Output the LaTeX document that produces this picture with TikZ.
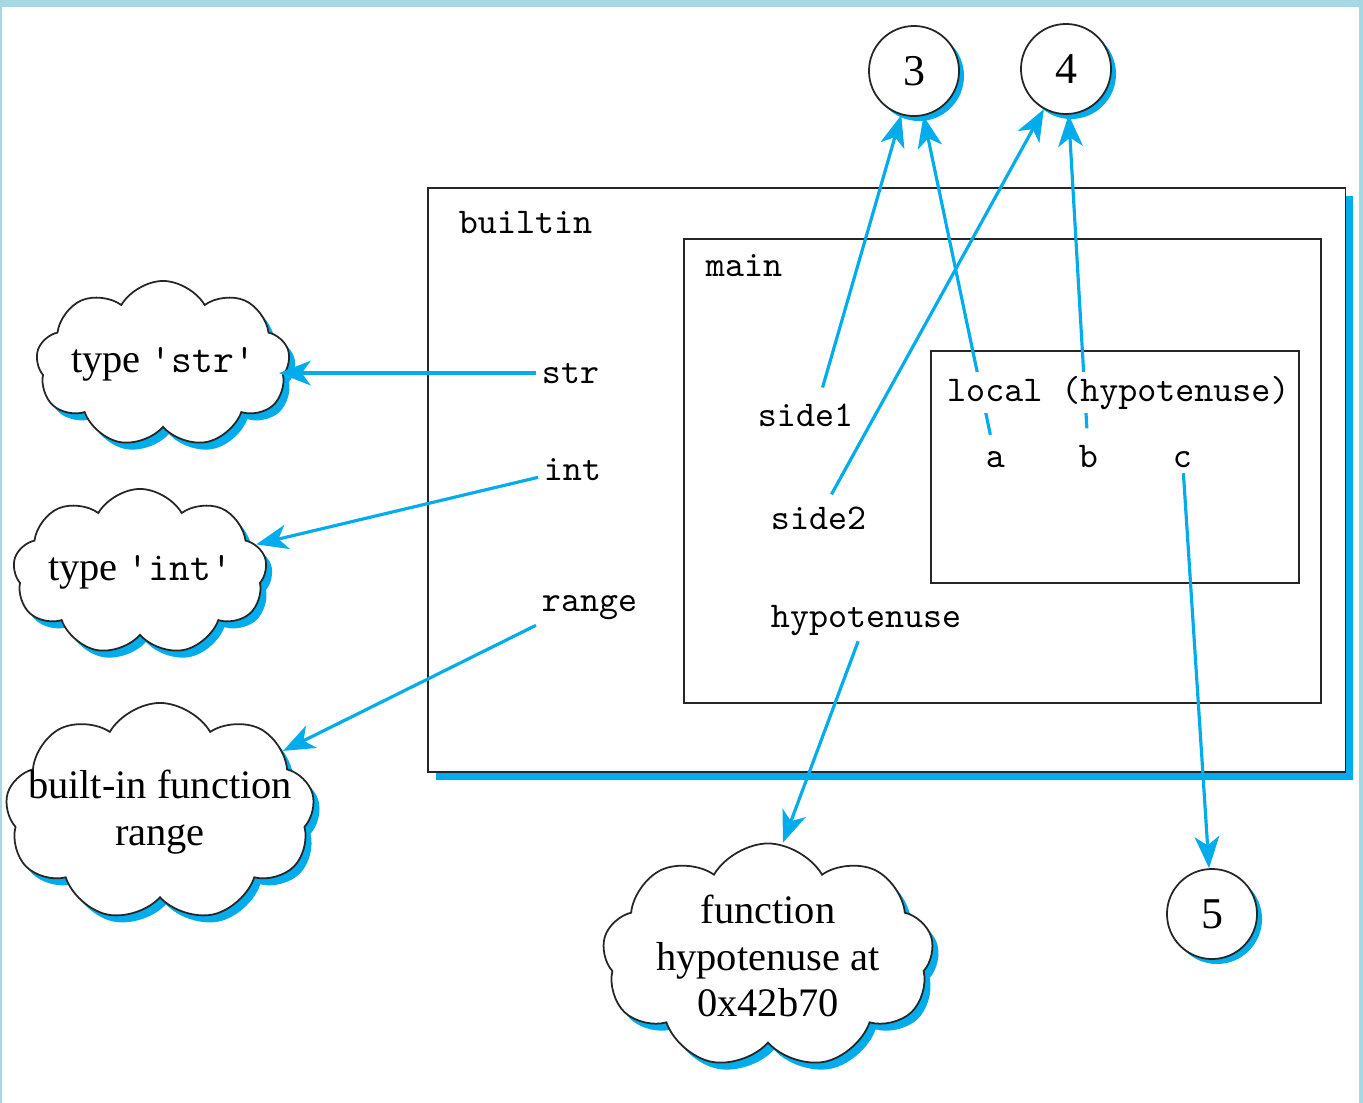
\documentclass[tikz,border=0pt]{standalone}
\usepackage{fontspec}
\setmainfont{Liberation Serif}
\usetikzlibrary{shapes,arrows.meta,shadows,positioning}
\usepackage{xcolor}
\definecolor{ptrblue}{RGB}{0,172,236}
\definecolor{edgeblue}{RGB}{166,216,228}
\pgfdeclarelayer{front}
\pgfsetlayers{main,front}
\newcommand{\code}[1]{{\fontsize{11.5}{13}\selectfont\ttfamily #1}}

\begin{document}
\begin{tikzpicture}[x=0.01cm,y=-0.01cm]
    \tikzstyle{frame} = [draw=black!85, line width=0.5pt, anchor=north west, inner sep=0pt]
    \tikzstyle{varname} = [font=\fontsize{10.3}{12}\selectfont\ttfamily, anchor=base west, inner sep=1.5pt]
    \tikzstyle{thought} = [cloud, draw=black!85, line width=0.5pt, fill=white,
               cloud puffs=9, cloud puff arc=120, cloud ignores aspect, inner sep=0pt,
               align=center, font=\fontsize{11.5}{13.3}\selectfont,
               drop shadow={shadow xshift=0.06cm, shadow yshift=-0.07cm, fill=ptrblue, opacity=1}]
    \tikzstyle{value} = [circle, draw=black!85, line width=0.5pt, fill=white,
               minimum size=0.9cm, inner sep=0pt, font=\fontsize{12.5}{14}\selectfont,
               drop shadow={shadow xshift=0.05cm, shadow yshift=-0.05cm, fill=ptrblue, opacity=1}]
    \tikzstyle{ref} = [draw=ptrblue, line width=0.9pt, -{Stealth[length=9pt,width=7pt,inset=2.5pt]}]

    \useasboundingbox (0,0) rectangle (1363,1103);
    \fill[edgeblue] (0,0) rectangle (1363,7);
    \fill[edgeblue] (0,0) rectangle (2,1103);
    \fill[edgeblue] (1359,0) rectangle (1363,1103);

    % Define namespaces
    \node[frame, fill=white, minimum width=9.17cm, minimum height=5.84cm,
          drop shadow={shadow xshift=0.08cm, shadow yshift=-0.08cm, fill=ptrblue, opacity=1}]
          (builtinbox) at (427,187) {};
    \node[frame, minimum width=6.37cm, minimum height=4.64cm] (mainbox) at (683,238) {};
    \node[frame, minimum width=3.68cm, minimum height=2.32cm] (localbox) at (930,350) {};

    \node[varname] (builtin) at (453,233) {builtin};
    \node[varname] (main) at (700,276) {main};

    % Names
    \node[varname] (str) at (536,383) {str};
    \node[varname] (int) at (538,480) {int};
    \node[varname] (range) at (536,611) {range};
    \node[varname] (side1) at (752,426) {side1};
    \node[varname] (side2) at (765,529) {side2};
    \node[varname] (hypotenuse) at (765,627) {hypotenuse};
    \node[varname] (a) at (980,467) {a};
    \node[varname] (b) at (1073,467) {b};
    \node[varname] (c) at (1167,467) {c};

    % Objects
    \node[value] (three) at (914,71) {3};
    \node[value] (four) at (1066,69) {4};
    \node[value] (five) at (1212,914) {5};

    \node[thought, minimum width=1.95cm, minimum height=1.66cm] (strtype) at (163,364)
          {type \code{'str'}};
    \node[thought, minimum width=1.95cm, minimum height=1.66cm] (inttype) at (140,572)
          {type \code{'int'}};
    \node[thought, minimum width=2.3cm, minimum height=2.18cm] (rangefn) at (160,812)
          {\makebox[2.15cm]{built-in function}\\range};
    \node[thought, minimum width=2.72cm, minimum height=2.1cm] (hypfn) at (768,956)
          {function\\hypotenuse at\\0x42b70};

    % Draw references
    \draw[ref, shorten >=-3pt] (str.west) -- (str.west -| strtype.east);
    \draw[ref] (int) -- (inttype);
    \draw[ref] (range.south west) -- (rangefn);
    \draw[ref] ([xshift=0.17cm,yshift=0.1cm]side1.north) -- (three);
    \draw[ref, shorten <=3pt] (a) -- (three);
    \draw[ref, shorten <=2pt] (side2) -- (four);
    \draw[ref, shorten <=3pt] (b) -- (four);
    \draw[ref] (hypotenuse) -- ([xshift=0.15cm]hypfn.north);
    \draw[ref] (c) -- (five);

    \begin{pgfonlayer}{front}
      \node[varname, fill=white, inner sep=1pt] (local) at (943,401) {local (hypotenuse)};
    \end{pgfonlayer}
\end{tikzpicture}
\end{document}
